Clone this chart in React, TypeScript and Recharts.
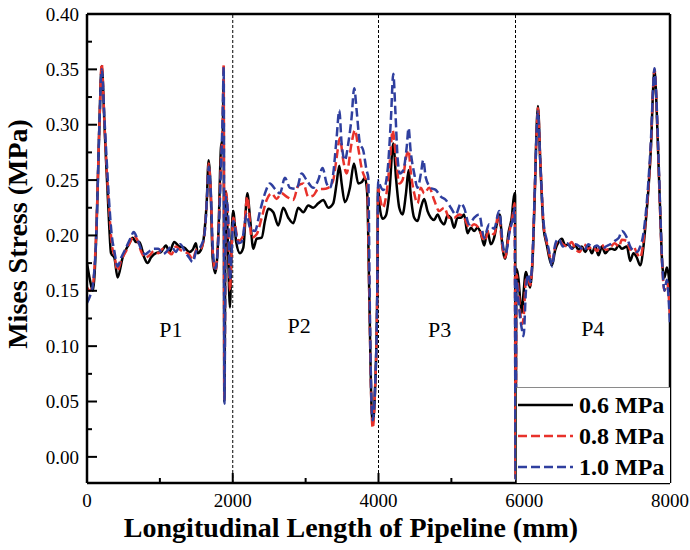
import React from "react";
import { LineChart, Line, XAxis, YAxis, ReferenceLine, ReferenceDot, Legend } from "recharts";

// 0.6 MPa
const xs06 = [0, 40, 80, 130, 170, 202, 240, 261, 306, 329, 375, 420, 489, 581, 627, 672, 718, 786, 832, 878, 947, 1015, 1084, 1129, 1198, 1266, 1335, 1404, 1450, 1495, 1518, 1564, 1610, 1642, 1669, 1701, 1724, 1760, 1806, 1838, 1861, 1875, 1884, 1905, 1930, 1962, 1985, 2007, 2045, 2099, 2145, 2200, 2237, 2282, 2328, 2397, 2442, 2488, 2556, 2625, 2693, 2762, 2830, 2899, 2968, 3036, 3105, 3173, 3242, 3310, 3379, 3425, 3462, 3494, 3539, 3608, 3663, 3722, 3768, 3814, 3845, 3873, 3906, 3920, 3951, 3983, 3995, 4011, 4057, 4102, 4148, 4203, 4240, 4285, 4330, 4377, 4413, 4440, 4490, 4536, 4582, 4627, 4673, 4719, 4764, 4810, 4856, 4901, 4947, 4993, 5038, 5084, 5130, 5175, 5221, 5267, 5313, 5358, 5404, 5450, 5495, 5541, 5587, 5632, 5664, 5700, 5737, 5783, 5828, 5865, 5874, 5882, 5892, 5922, 5945, 5968, 5990, 6023, 6050, 6082, 6114, 6142, 6174, 6188, 6219, 6265, 6311, 6343, 6380, 6425, 6471, 6517, 6562, 6608, 6654, 6700, 6745, 6791, 6837, 6882, 6928, 6974, 7019, 7065, 7111, 7156, 7202, 7248, 7294, 7339, 7408, 7454, 7499, 7545, 7591, 7636, 7668, 7705, 7741, 7769, 7787, 7805, 7833, 7865, 7897, 7924, 7956, 7988, 8000];
const mises06 = [0.175, 0.160, 0.150, 0.205, 0.300, 0.353, 0.300, 0.268, 0.207, 0.184, 0.180, 0.162, 0.180, 0.193, 0.198, 0.194, 0.194, 0.180, 0.175, 0.180, 0.184, 0.185, 0.191, 0.185, 0.194, 0.190, 0.189, 0.185, 0.187, 0.193, 0.184, 0.187, 0.202, 0.229, 0.268, 0.232, 0.180, 0.166, 0.207, 0.279, 0.288, 0.340, 0.050, 0.240, 0.200, 0.135, 0.200, 0.222, 0.195, 0.184, 0.189, 0.238, 0.216, 0.188, 0.197, 0.198, 0.213, 0.224, 0.221, 0.209, 0.225, 0.216, 0.211, 0.225, 0.221, 0.227, 0.225, 0.229, 0.232, 0.225, 0.229, 0.247, 0.263, 0.247, 0.230, 0.243, 0.265, 0.247, 0.248, 0.252, 0.238, 0.148, 0.042, 0.031, 0.058, 0.148, 0.245, 0.229, 0.215, 0.218, 0.238, 0.283, 0.252, 0.225, 0.219, 0.238, 0.259, 0.238, 0.216, 0.213, 0.225, 0.233, 0.222, 0.216, 0.214, 0.219, 0.213, 0.210, 0.218, 0.216, 0.207, 0.216, 0.216, 0.219, 0.202, 0.207, 0.204, 0.207, 0.202, 0.191, 0.204, 0.192, 0.198, 0.213, 0.219, 0.190, 0.179, 0.202, 0.216, 0.238, 0.238, -0.02, 0.170, 0.160, 0.141, 0.130, 0.148, 0.167, 0.160, 0.153, 0.177, 0.232, 0.304, 0.317, 0.268, 0.207, 0.191, 0.180, 0.173, 0.187, 0.194, 0.197, 0.191, 0.192, 0.188, 0.191, 0.187, 0.190, 0.185, 0.190, 0.184, 0.190, 0.182, 0.190, 0.184, 0.187, 0.188, 0.187, 0.191, 0.188, 0.190, 0.177, 0.184, 0.180, 0.173, 0.190, 0.213, 0.243, 0.283, 0.333, 0.349, 0.333, 0.283, 0.222, 0.171, 0.162, 0.171, 0.160, 0.150];

// 0.8 MPa
const xs08 = [0, 40, 80, 130, 170, 202, 240, 270, 306, 340, 375, 420, 470, 530, 600, 640, 690, 740, 800, 860, 920, 980, 1040, 1100, 1160, 1220, 1280, 1340, 1400, 1450, 1500, 1560, 1610, 1645, 1669, 1700, 1725, 1760, 1805, 1840, 1862, 1876, 1884, 1905, 1935, 1962, 1985, 2007, 2078, 2145, 2200, 2260, 2328, 2397, 2465, 2533, 2602, 2670, 2739, 2830, 2899, 2968, 3036, 3105, 3173, 3242, 3310, 3379, 3425, 3470, 3516, 3562, 3630, 3676, 3722, 3768, 3814, 3845, 3873, 3906, 3920, 3951, 3983, 3995, 4011, 4057, 4110, 4157, 4194, 4240, 4285, 4330, 4377, 4413, 4440, 4490, 4536, 4582, 4627, 4696, 4764, 4833, 4901, 4970, 5038, 5107, 5175, 5244, 5313, 5381, 5450, 5518, 5587, 5646, 5700, 5737, 5792, 5837, 5868, 5882, 5892, 5922, 5945, 5968, 5990, 6023, 6050, 6082, 6114, 6142, 6174, 6188, 6219, 6265, 6311, 6343, 6380, 6425, 6471, 6530, 6590, 6650, 6700, 6760, 6820, 6880, 6940, 7000, 7060, 7120, 7180, 7240, 7300, 7339, 7408, 7454, 7499, 7545, 7591, 7636, 7668, 7705, 7741, 7769, 7787, 7805, 7833, 7865, 7897, 7924, 7956, 7988, 8000];
const mises08 = [0.153, 0.150, 0.155, 0.210, 0.300, 0.355, 0.300, 0.260, 0.222, 0.192, 0.182, 0.168, 0.178, 0.185, 0.195, 0.200, 0.196, 0.186, 0.180, 0.182, 0.186, 0.184, 0.188, 0.186, 0.183, 0.190, 0.187, 0.185, 0.183, 0.178, 0.187, 0.188, 0.200, 0.232, 0.265, 0.236, 0.185, 0.168, 0.205, 0.270, 0.300, 0.355, 0.050, 0.240, 0.215, 0.150, 0.190, 0.216, 0.195, 0.200, 0.235, 0.198, 0.201, 0.216, 0.232, 0.238, 0.233, 0.238, 0.235, 0.232, 0.245, 0.247, 0.235, 0.236, 0.242, 0.242, 0.243, 0.250, 0.270, 0.288, 0.268, 0.256, 0.283, 0.295, 0.279, 0.261, 0.252, 0.247, 0.148, 0.040, 0.026, 0.058, 0.148, 0.243, 0.238, 0.225, 0.238, 0.268, 0.295, 0.270, 0.247, 0.250, 0.270, 0.277, 0.259, 0.238, 0.229, 0.243, 0.238, 0.243, 0.232, 0.222, 0.225, 0.216, 0.216, 0.219, 0.216, 0.207, 0.210, 0.206, 0.195, 0.204, 0.201, 0.219, 0.190, 0.180, 0.202, 0.216, 0.229, -0.02, 0.165, 0.150, 0.130, 0.120, 0.125, 0.160, 0.162, 0.155, 0.180, 0.235, 0.300, 0.315, 0.270, 0.210, 0.193, 0.183, 0.176, 0.190, 0.196, 0.192, 0.190, 0.194, 0.188, 0.185, 0.192, 0.188, 0.190, 0.186, 0.192, 0.187, 0.189, 0.193, 0.190, 0.196, 0.195, 0.187, 0.190, 0.184, 0.180, 0.195, 0.215, 0.245, 0.285, 0.335, 0.350, 0.335, 0.285, 0.220, 0.168, 0.150, 0.158, 0.140, 0.125];

// 1.0 MPa
const xs10 = [0, 40, 80, 130, 170, 202, 240, 270, 306, 340, 375, 420, 470, 530, 600, 640, 690, 740, 800, 860, 920, 980, 1040, 1100, 1160, 1220, 1280, 1340, 1400, 1450, 1500, 1560, 1610, 1645, 1669, 1700, 1725, 1760, 1805, 1840, 1862, 1876, 1886, 1905, 1935, 1962, 1985, 2007, 2078, 2122, 2190, 2237, 2305, 2374, 2442, 2510, 2579, 2647, 2716, 2785, 2876, 2945, 3013, 3105, 3173, 3233, 3288, 3333, 3379, 3425, 3462, 3494, 3539, 3585, 3630, 3667, 3700, 3745, 3790, 3836, 3860, 3880, 3906, 3920, 3951, 3983, 3995, 4011, 4066, 4125, 4171, 4203, 4231, 4262, 4294, 4340, 4386, 4413, 4440, 4490, 4536, 4582, 4614, 4650, 4719, 4787, 4856, 4924, 4993, 5061, 5130, 5175, 5244, 5313, 5381, 5450, 5518, 5587, 5655, 5710, 5746, 5801, 5846, 5868, 5882, 5892, 5922, 5945, 5968, 5990, 6023, 6050, 6082, 6114, 6142, 6174, 6188, 6219, 6265, 6311, 6343, 6380, 6425, 6471, 6530, 6590, 6650, 6700, 6760, 6820, 6880, 6940, 7000, 7060, 7120, 7180, 7240, 7300, 7339, 7408, 7454, 7499, 7545, 7591, 7636, 7668, 7705, 7741, 7769, 7787, 7805, 7833, 7865, 7897, 7924, 7956, 7988, 8000];
const mises10 = [0.139, 0.145, 0.155, 0.205, 0.300, 0.350, 0.305, 0.268, 0.228, 0.200, 0.186, 0.172, 0.180, 0.188, 0.198, 0.203, 0.197, 0.188, 0.183, 0.186, 0.188, 0.188, 0.183, 0.186, 0.190, 0.185, 0.192, 0.186, 0.180, 0.176, 0.186, 0.190, 0.200, 0.232, 0.262, 0.238, 0.190, 0.170, 0.200, 0.265, 0.310, 0.352, 0.048, 0.235, 0.220, 0.160, 0.185, 0.213, 0.193, 0.194, 0.219, 0.207, 0.204, 0.222, 0.238, 0.247, 0.242, 0.238, 0.252, 0.243, 0.242, 0.256, 0.250, 0.243, 0.250, 0.261, 0.247, 0.243, 0.256, 0.288, 0.313, 0.283, 0.268, 0.283, 0.306, 0.333, 0.313, 0.283, 0.277, 0.259, 0.252, 0.140, 0.045, 0.033, 0.060, 0.150, 0.250, 0.247, 0.241, 0.259, 0.306, 0.346, 0.313, 0.270, 0.256, 0.259, 0.279, 0.297, 0.277, 0.256, 0.243, 0.256, 0.268, 0.252, 0.243, 0.241, 0.235, 0.232, 0.225, 0.219, 0.229, 0.225, 0.210, 0.216, 0.219, 0.198, 0.210, 0.206, 0.222, 0.190, 0.184, 0.204, 0.216, 0.225, -0.02, 0.160, 0.140, 0.125, 0.115, 0.109, 0.150, 0.165, 0.158, 0.182, 0.235, 0.300, 0.312, 0.268, 0.212, 0.195, 0.185, 0.172, 0.192, 0.197, 0.190, 0.193, 0.188, 0.192, 0.190, 0.186, 0.192, 0.189, 0.191, 0.187, 0.190, 0.192, 0.195, 0.198, 0.204, 0.198, 0.190, 0.186, 0.185, 0.190, 0.202, 0.220, 0.250, 0.290, 0.335, 0.351, 0.335, 0.290, 0.225, 0.170, 0.150, 0.160, 0.135, 0.120];

const xTicks = [0, 1000, 2000, 3000, 4000, 5000, 6000, 7000, 8000];
const yTicks = [0, 0.025, 0.05, 0.075, 0.1, 0.125, 0.15, 0.175, 0.2, 0.225, 0.25, 0.275, 0.3, 0.325, 0.35, 0.375, 0.4];
const sectionBounds = [2000, 4000, 5880];
const sectionNames = ["P1", "P2", "P3", "P4"];
const sectionX = [1150, 2910, 4840, 6940];
const sectionY = [0.115, 0.119, 0.115, 0.116];

const FONT = "'Liberation Serif', 'Times New Roman', serif";

const toPoints = (xs: number[], ys: number[]) => xs.map((x, i) => ({ x, y: ys[i] }));

const series = [
  { name: "0.6 MPa", data: toPoints(xs06, mises06), color: "#000000", dash: undefined as string | undefined },
  { name: "0.8 MPa", data: toPoints(xs08, mises08), color: "#e8322b", dash: "9 4" },
  { name: "1.0 MPa", data: toPoints(xs10, mises10), color: "#2f3f9f", dash: "9 4" },
];

const YTick = (props: any) => {
  const { x, y, payload } = props;
  const v = payload.value as number;
  const major = Math.round(v * 1000) % 50 === 0;
  return (
    <g>
      <line x1={x} x2={x + (major ? 10 : 5)} y1={y} y2={y} stroke="#000" strokeWidth={2} />
      {major && (
        <text x={x - 8} y={y} dy="0.35em" textAnchor="end" fontSize={19} fontFamily={FONT} fill="#000">
          {v.toFixed(2)}
        </text>
      )}
    </g>
  );
};

const XTick = (props: any) => {
  const { x, y, payload } = props;
  const v = payload.value as number;
  const major = v % 2000 === 0;
  return (
    <g>
      <line x1={x} x2={x} y1={y} y2={y - (major ? 10 : 5)} stroke="#000" strokeWidth={2} />
      {major && (
        <text x={x} y={y + 24} textAnchor="middle" fontSize={19} fontFamily={FONT} fill="#000">
          {v}
        </text>
      )}
    </g>
  );
};

const LegendBox = () => (
  <div style={{ width: 154, height: 96, background: "#fff", boxSizing: "border-box", borderTop: "1.5px solid #8a8a8a", borderLeft: "1px solid #444" }}>
    <svg width={153} height={94}>
      {series.map((s, i) => {
        const cy = 17 + i * 31;
        return (
          <g key={s.name}>
            <line x1={1} x2={56} y1={cy} y2={cy} stroke={s.color} strokeWidth={2.5} strokeDasharray={s.dash} />
            <text x={62} y={cy} dy="0.35em" fontSize={24} fontWeight="bold" fontFamily={FONT} fill="#000">
              {s.name}
            </text>
          </g>
        );
      })}
    </svg>
  </div>
);

export default function App() {
  return (
    <div style={{ position: "absolute", left: 0, top: 0, width: 690, height: 550, background: "#fff" }}>
      <LineChart width={690} height={550} margin={{ top: 14, right: 20, bottom: 27, left: 27 }}>
        <XAxis
          dataKey="x"
          type="number"
          domain={[0, 8000]}
          ticks={xTicks}
          tick={<XTick />}
          tickSize={0}
          tickMargin={0}
          tickLine={false}
          height={40}
          axisLine={{ stroke: "#000", strokeWidth: 2.5 }}
          allowDataOverflow
        />
        <YAxis
          type="number"
          domain={[-0.0236, 0.4]}
          ticks={yTicks}
          tick={<YTick />}
          tickSize={0}
          tickMargin={0}
          tickLine={false}
          width={60}
          axisLine={{ stroke: "#000", strokeWidth: 2.5 }}
          allowDataOverflow
        />
        <ReferenceLine y={0.4} stroke="#000" strokeWidth={2.5} />
        <ReferenceLine x={8000} stroke="#000" strokeWidth={2.5} />
        {sectionBounds.map((b) => (
          <ReferenceLine key={b} x={b} stroke="#000" strokeWidth={1} strokeDasharray="3 2" />
        ))}
        {sectionNames.map((n, i) => (
          <ReferenceDot
            key={n}
            x={sectionX[i]}
            y={sectionY[i]}
            r={0}
            stroke="none"
            fill="none"
            label={{ value: n, position: "center", fontSize: 22, fontFamily: FONT, fill: "#000" }}
          />
        ))}
        {series.map((s) => (
          <Line
            key={s.name}
            data={s.data}
            dataKey="y"
            name={s.name}
            type="monotone"
            stroke={s.color}
            strokeWidth={2.5}
            strokeDasharray={s.dash}
            dot={false}
            activeDot={false}
            isAnimationActive={false}
          />
        ))}
        <Legend
          layout="vertical"
          align="center"
          verticalAlign="middle"
          content={<LegendBox />}
          wrapperStyle={{ left: 516, top: 387, width: 154, height: 96 }}
        />
      </LineChart>
      <div style={{ position: "absolute", left: 0, top: 0, width: 690, height: 550, pointerEvents: "none" }}>
        <svg width={690} height={550}>
          <text x={351} y={537} textAnchor="middle" fontSize={28} fontWeight="bold" fontFamily={FONT} fill="#000">
            Longitudinal Length of Pipeline (mm)
          </text>
          <text
            transform="translate(27, 234) rotate(-90)"
            textAnchor="middle"
            fontSize={28}
            fontWeight="bold"
            fontFamily={FONT}
            fill="#000"
          >
            Mises Stress (MPa)
          </text>
        </svg>
      </div>
    </div>
  );
}
